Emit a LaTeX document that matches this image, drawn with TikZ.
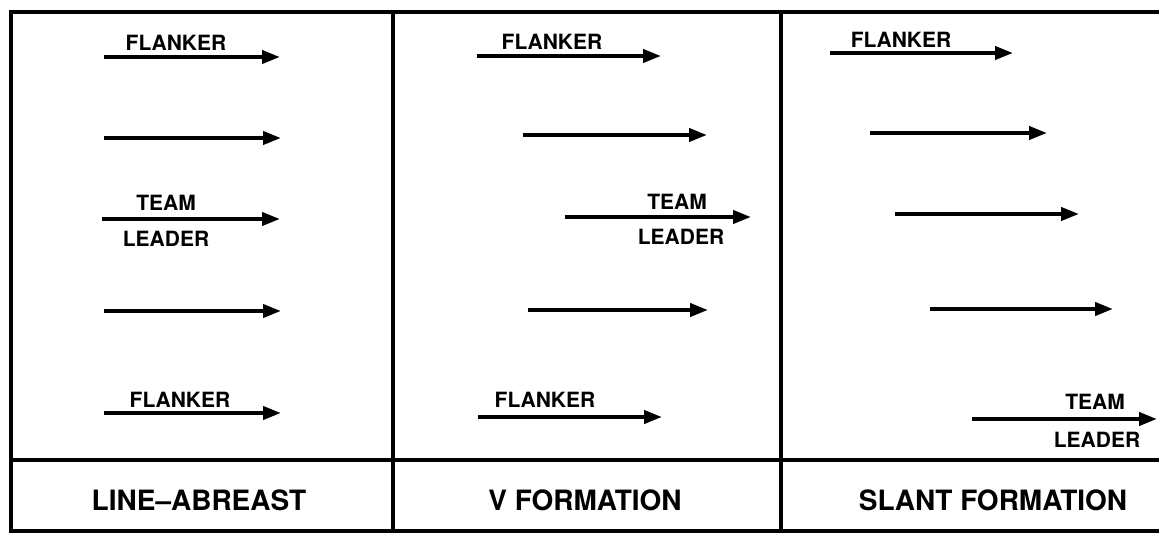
\documentclass[tikz,border=0pt]{standalone}
\usepackage{fontspec}
\setmainfont{TeX Gyre Heros}
\usetikzlibrary{arrows.meta, positioning}
\tikzset{
  frame/.style ={draw=black, line width=1.8pt},
  flight/.style={-{Triangle[length=9pt, width=6.5pt]}, line width=2pt, black},
  tag/.style   ={font=\fontsize{10.5}{11}\selectfont\bfseries, inner sep=1pt},
  title/.style ={font=\fontsize{14}{15}\selectfont\bfseries, inner sep=1pt}
}
\begin{document}
\begin{tikzpicture}[x=0.5pt, y=-0.5pt]
\useasboundingbox (0,0) rectangle (1159,533);

% frame and panels
\draw[frame] (1163,12) -- (11,12) -- (11,531) -- (1163,531);
\draw[frame] (11,460) -- (1163,460);
\draw[frame] (393,12) -- (393,531);
\draw[frame] (781,12) -- (781,531);

% line-abreast
\coordinate (a1s) at (104,57);  \coordinate (a1e) at (280,57);
\coordinate (a2s) at (104,138); \coordinate (a2e) at (281,138);
\coordinate (a3s) at (102,219); \coordinate (a3e) at (280,219);
\coordinate (a4s) at (104,311); \coordinate (a4e) at (281,311);
\coordinate (a5s) at (104,413); \coordinate (a5e) at (281,413);
\draw[flight] (a1s) -- (a1e);
\draw[flight] (a2s) -- (a2e);
\draw[flight] (a3s) -- (a3e);
\draw[flight] (a4s) -- (a4e);
\draw[flight] (a5s) -- (a5e);
\node[tag] (a1t) at (176,43) {FLANKER};
\node[tag] (a3t) at (166,203) {TEAM};
\node[tag] (a3b) at (166,239) {LEADER};
\node[tag] (a5t) at (180,400) {FLANKER};
\node[title] (abreast) at (199,500) {LINE--ABREAST};

% v formation
\coordinate (v1s) at (477,56);  \coordinate (v1e) at (661,56);
\coordinate (v2s) at (523,135); \coordinate (v2e) at (707,135);
\coordinate (v3s) at (565,217); \coordinate (v3e) at (751,217);
\coordinate (v4s) at (528,310); \coordinate (v4e) at (708,310);
\coordinate (v5s) at (478,417); \coordinate (v5e) at (662,417);
\draw[flight] (v1s) -- (v1e);
\draw[flight] (v2s) -- (v2e);
\draw[flight] (v3s) -- (v3e);
\draw[flight] (v4s) -- (v4e);
\draw[flight] (v5s) -- (v5e);
\node[tag] (v1t) at (552,42) {FLANKER};
\node[tag] (v3t) at (677,202) {TEAM};
\node[tag] (v3b) at (681,237) {LEADER};
\node[tag] (v5t) at (545,400) {FLANKER};
\node[title] (vform) at (585,500) {V FORMATION};

% slant formation
\coordinate (s1s) at (830,53);  \coordinate (s1e) at (1013,53);
\coordinate (s2s) at (870,133); \coordinate (s2e) at (1047,133);
\coordinate (s3s) at (895,214); \coordinate (s3e) at (1079,214);
\coordinate (s4s) at (930,309); \coordinate (s4e) at (1113,309);
\coordinate (s5s) at (972,419); \coordinate (s5e) at (1157,419);
\draw[flight] (s1s) -- (s1e);
\draw[flight] (s2s) -- (s2e);
\draw[flight] (s3s) -- (s3e);
\draw[flight] (s4s) -- (s4e);
\draw[flight] (s5s) -- (s5e);
\node[tag] (s1t) at (901,40) {FLANKER};
\node[tag] (s5t) at (1095,402) {TEAM};
\node[tag] (s5b) at (1097,440) {LEADER};
\node[title] (slant) at (993,500) {SLANT FORMATION};
\end{tikzpicture}
\end{document}
